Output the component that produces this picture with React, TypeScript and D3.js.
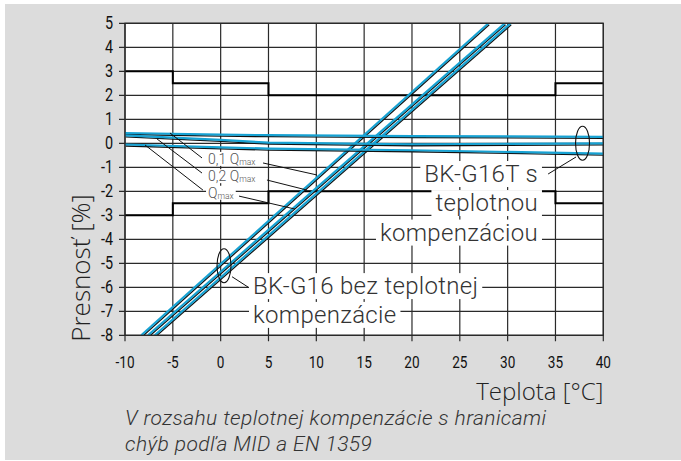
import React, { useRef, useState, useLayoutEffect } from "react";
import * as d3 from "d3";

// ---------- data ----------
const tempTicks = [-10, -5, 0, 5, 10, 15, 20, 25, 30, 35, 40];
const pctTicks = [5, 4, 3, 2, 1, 0, -1, -2, -3, -4, -5, -6, -7, -8];

// MID / EN 1359 error limits (step after)
const limitTemps = [-10, -5, 5, 35, 40];
const upperLimit = [3, 2.5, 2, 2.5, 2.5];
const lowerLimit = [-3, -2.5, -2, -2.5, -2.5];

// BK-G16T (temperature compensated)
const compTemps = [-10, 0, 5, 20, 40];
const compQ01 = [0.43, 0.36, 0.34, 0.3, 0.27];
const compQ02 = [0.33, 0.14, 0.03, -0.04, 0.0];
const compQmax = [-0.05, -0.17, -0.22, -0.29, -0.43];

// BK-G16 (no compensation) – points where lines leave the plot
const g16Temps01 = [-8.3, 28.0];
const g16Temps02 = [-7.6, 29.7];
const g16TempsMax = [-6.9, 30.3];
const g16Values = [-8, 5];

const blue = "#17a2d3";
const gridColor = "#2a2a2a";
const tickFont = "Roboto, 'Liberation Sans', sans-serif";
const labelFont = "Roboto, 'Liberation Sans', sans-serif";
const titleFont = "'Open Sans', Roboto, 'Liberation Sans', sans-serif";

const x = d3.scaleLinear().domain([-10, 40]).range([125, 603.3]);
const y = d3.scaleLinear().domain([-8, 5]).range([335.3, 23.3]);

const line = d3
  .line<[number, number]>()
  .x((d) => x(d[0]))
  .y((d) => y(d[1]));
const stepLine = d3
  .line<[number, number]>()
  .x((d) => x(d[0]))
  .y((d) => y(d[1]))
  .curve(d3.curveStepAfter);

const zip = (a: number[], b: number[]) => a.map((v, i) => [v, b[i]] as [number, number]);

function BoxedText(props: {
  px: number;
  py: number;
  anchor?: string;
  size: number;
  fill?: string;
  weight?: number;
  padX?: number;
  spacing?: number;
  children: React.ReactNode;
}) {
  const ref = useRef<SVGTextElement>(null);
  const [bb, setBB] = useState<null | { x: number; y: number; w: number; h: number }>(null);
  useLayoutEffect(() => {
    if (ref.current) {
      const b = ref.current.getBBox();
      setBB({ x: b.x, y: b.y, w: b.width, h: b.height });
    }
  }, []);
  const padX = props.padX ?? 4;
  return (
    <g>
      {bb && (
        <rect x={bb.x - padX} y={bb.y + 1} width={bb.w + padX * 2} height={bb.h - 2} fill="white" />
      )}
      <text
        ref={ref}
        x={props.px}
        y={props.py}
        textAnchor={props.anchor ?? "start"}
        dominantBaseline="central"
        fontSize={props.size}
        fill={props.fill ?? "#333"}
        fontFamily={labelFont}
        fontWeight={props.weight ?? 300}
        letterSpacing={props.spacing ?? 0}
      >
        {props.children}
      </text>
    </g>
  );
}

function BlueLine({ d }: { d: string }) {
  return (
    <g>
      <path d={d} fill="none" stroke="#111" strokeWidth={1.3} transform="translate(0.7,1.5)" />
      <path d={d} fill="none" stroke={blue} strokeWidth={2.2} />
    </g>
  );
}

// annotation leaders in data coordinates
const leaders: [number, number, number, number][] = [
  [-5.3, 0.43, -1.95, -0.61],
  [4.43, -0.82, 10.07, -1.32],
  [-6.65, 0.18, -1.95, -1.24],
  [4.84, -1.53, 9.03, -1.95],
  [-7.91, -0.07, -1.85, -1.95],
  [1.92, -2.2, 7.77, -2.74],
  [37.15, -0.57, 34.23, -1.28],
  [1.19, -5.56, 2.86, -5.99],
];

export default function App() {
  const [x0, x1] = x.range();
  const [y1, y0] = y.range();
  return (
    <svg width={681} height={461} style={{ position: "absolute", left: 0, top: 0 }}>
      <defs>
        <clipPath id="plotclip">
          <rect x={x0} y={y0} width={x1 - x0} height={y1 - y0} />
        </clipPath>
      </defs>
      <rect x={5} y={4} width={676} height={456} fill="#dcdcdc" />
      <rect x={x0} y={y0} width={x1 - x0} height={y1 - y0} fill="white" />

      {/* grid */}
      {tempTicks.map((t) => (
        <line key={"gx" + t} x1={x(t)} x2={x(t)} y1={y0} y2={y1 + 6} stroke={gridColor} strokeWidth={1.2} />
      ))}
      {pctTicks.map((p) => (
        <line key={"gy" + p} x1={x0 - 6} x2={x1} y1={y(p)} y2={y(p)} stroke={gridColor} strokeWidth={1.2} />
      ))}

      {/* limits */}
      <path d={stepLine(zip(limitTemps, upperLimit)) || ""} fill="none" stroke="#000" strokeWidth={2} />
      <path d={stepLine(zip(limitTemps, lowerLimit)) || ""} fill="none" stroke="#000" strokeWidth={2} />

      {/* label boxes with text */}
      <BoxedText px={x(33.17)} py={y(-1.28)} anchor="end" size={24} spacing={0.3}>BK-G16T s</BoxedText>
      <BoxedText px={x(33.17)} py={y(-2.49)} anchor="end" size={24} spacing={0.3}>teplotnou</BoxedText>
      <BoxedText px={x(33.17)} py={y(-3.72)} anchor="end" size={24} spacing={0.3}>kompenzáciou</BoxedText>
      <BoxedText px={x(3.38)} py={y(-5.95)} size={24} spacing={0.3}>BK-G16 bez teplotnej</BoxedText>
      <BoxedText px={x(3.38)} py={y(-7.15)} size={24} spacing={0.3}>kompenzácie</BoxedText>

      <g clipPath="url(#plotclip)">
        <BlueLine d={line(zip(g16Temps01, g16Values)) || ""} />
        <BlueLine d={line(zip(g16Temps02, g16Values)) || ""} />
        <BlueLine d={line(zip(g16TempsMax, g16Values)) || ""} />
        <BlueLine d={line(zip(compTemps, compQ01)) || ""} />
        <BlueLine d={line(zip(compTemps, compQ02)) || ""} />
        <BlueLine d={line(zip(compTemps, compQmax)) || ""} />
      </g>

      {/* Q labels */}
      <BoxedText px={x(-1.32)} py={y(-0.65)} size={14} fill="#555" padX={2}>
        0,1 Q<tspan fontSize={8.5} dy={3}>max</tspan>
      </BoxedText>
      <BoxedText px={x(-1.32)} py={y(-1.37)} size={14} fill="#555" padX={2}>
        0,2 Q<tspan fontSize={8.5} dy={3}>max</tspan>
      </BoxedText>
      <BoxedText px={x(-1.32)} py={y(-2.06)} size={14} fill="#555" padX={2}>
        Q<tspan fontSize={8.5} dy={3}>max</tspan>
      </BoxedText>

      {/* leaders and ellipses */}
      {leaders.map((l, i) => (
        <line key={"ld" + i} x1={x(l[0])} y1={y(l[1])} x2={x(l[2])} y2={y(l[3])} stroke="#111" strokeWidth={1} />
      ))}
      <ellipse cx={x(37.83)} cy={y(0)} rx={7} ry={17} fill="none" stroke="#111" strokeWidth={1.1} />
      <ellipse cx={x(0.35)} cy={y(-5.1)} rx={7} ry={17} fill="none" stroke="#111" strokeWidth={1.1} />

      {/* frame */}
      <rect x={x0} y={y0} width={x1 - x0} height={y1 - y0} fill="none" stroke={gridColor} strokeWidth={1.3} />

      {/* tick labels */}
      {pctTicks.map((p) => (
        <text key={"ty" + p} transform={`translate(113,${y(p)}) scale(0.8,1)`} textAnchor="end" dominantBaseline="central" fontSize={18} fontFamily={tickFont} fill="#111">
          {p}
        </text>
      ))}
      {tempTicks.map((t) => (
        <text key={"tx" + t} transform={`translate(${x(t)},362) scale(0.8,1)`} textAnchor="middle" dominantBaseline="central" fontSize={17} fontFamily={tickFont} fill="#111">
          {t}
        </text>
      ))}

      {/* axis titles */}
      <text transform={`translate(80,268) rotate(-90)`} textAnchor="middle" dominantBaseline="central" fontSize={26} fontFamily={titleFont} fontWeight={300} fill="#222">
        Presnosť [%]
      </text>
      <text x={x1} y={390} textAnchor="end" dominantBaseline="central" fontSize={24} fontFamily={titleFont} fontWeight={300} fill="#222">
        Teplota [°C]
      </text>

      {/* caption */}
      <text x={x0} y={418} dominantBaseline="central" fontSize={21} fontStyle="italic" fontFamily={labelFont} fontWeight={300} letterSpacing={0.4} fill="#333">
        V rozsahu teplotnej kompenzácie s hranicami
      </text>
      <text x={x0} y={444} dominantBaseline="central" fontSize={21} fontStyle="italic" fontFamily={labelFont} fontWeight={300} letterSpacing={0.4} fill="#333">
        chýb podľa MID a EN 1359
      </text>
    </svg>
  );
}
